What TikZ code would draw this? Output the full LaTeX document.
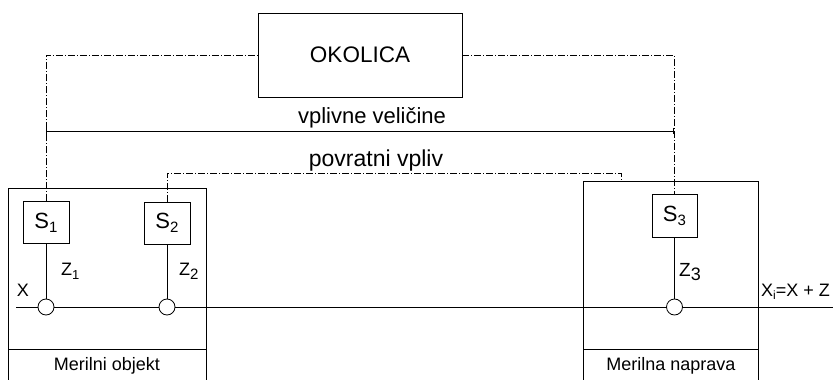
\documentclass[tikz,border=0pt]{standalone}
\usepackage{fontspec}
\setmainfont{Liberation Sans}
\newcommand{\subtxt}[3]{\raisebox{-#3}{\fontsize{#2}{#2}\selectfont #1}}
\begin{document}
\begin{tikzpicture}[x=1pt,y=-1pt,
  box/.style={draw, line width=0.8pt, inner sep=0pt},
  sbox/.style={box, minimum width=46pt, minimum height=42pt, font=\fontsize{22}{25}\selectfont},
  port/.style={circle, draw, line width=0.8pt, fill=white, minimum size=16pt, inner sep=0pt},
  dd/.style={line width=0.8pt, dash pattern=on 7pt off 2pt on 1pt off 2pt},
  wire/.style={line width=0.9pt},
  lab/.style={inner sep=0pt, font=\fontsize{18}{21}\selectfont},
  big/.style={inner sep=0pt, font=\fontsize{22}{26}\selectfont},
  small/.style={inner sep=0pt, font=\fontsize{18}{21}\selectfont}]
\useasboundingbox (0,0) rectangle (833,380);
% outer boxes (bottom cut by page edge)
\node[box, anchor=north west, minimum width=198pt, minimum height=205pt] (obj) at (8,188) {};
\node[box, anchor=north west, minimum width=175pt, minimum height=212pt] (dev) at (583,181) {};
\coordinate (objsepL) at (8,349); \coordinate (objsepR) at (206,349);
\coordinate (devsepL) at (583,349); \coordinate (devsepR) at (758,349);
\draw[line width=0.8pt] (objsepL) -- (objsepR);
\draw[line width=0.8pt] (devsepL) -- (devsepR);
\node[small] (objlab) at (107,366) {Merilni objekt};
\node[small] (devlab) at (671,366) {Merilna naprava};
% environment
\node[box, minimum width=204pt, minimum height=84pt, font=\fontsize{22.5}{26}\selectfont] (okolica) at (360,55) {OKOLICA};
% sensors
\node[sbox] (s1) at (46,222.5) {S\subtxt{1}{15}{4pt}};
\node[sbox] (s2) at (167,223) {S\subtxt{2}{15}{4pt}};
\node[sbox, minimum width=45pt, minimum height=43pt] (s3) at (674.5,215.5) {S\subtxt{3}{15}{4pt}};
% ports on main line
\node[port] (c1) at (46,307) {};
\node[port] (c2) at (167,307) {};
\node[port] (c3) at (674.5,307) {};
\coordinate (lstart) at (16,307);
\coordinate (lend) at (833,307);
\draw[wire] (lstart) -- (c1) -- (c2) -- (c3) -- (lend);
\draw[wire] (s1) -- (c1);
\draw[wire] (s2) -- (c2);
\draw[wire] (s3) -- (c3);
% environment influence
\draw[dd] (s1.north) |- (okolica.west);
\draw[dd] (okolica.east) -| (s3.north);
\coordinate (vl) at (46,131); \coordinate (vr) at (673,131);
\draw[wire] (vl) -- (vr);
\draw[wire] ([yshift=-3pt]vl) -- ([yshift=3pt]vl);
\draw[wire] ([yshift=-3pt]vr) -- ([yshift=3pt]vr);
\node[big] (vv) at (372,118) {vplivne veličine};
% feedback
\coordinate (pvA) at (167,173); \coordinate (pvB) at (621,173); \coordinate (pvC) at (621,181);
\draw[dd] (s2.north) -- (pvA) -- (pvB) -- (pvC);
\node[big, font=\fontsize{23}{26}\selectfont] (pv) at (376,161) {povratni vpliv};
% labels
\node[lab, anchor=west] (z1) at (61,271) {Z\subtxt{1}{13}{4pt}};
\node[lab, anchor=west] (z2) at (179,271) {Z\subtxt{2}{15}{4pt}};
\node[lab, anchor=west, font=\fontsize{19}{22}\selectfont] (z3) at (679,272) {Z\subtxt{3}{18}{4pt}};
\node[lab] (xin) at (23,290) {X};
\node[small, anchor=west] (xout) at (761,292) {X\subtxt{i}{12}{3pt}=X + Z};
\end{tikzpicture}
\end{document}
